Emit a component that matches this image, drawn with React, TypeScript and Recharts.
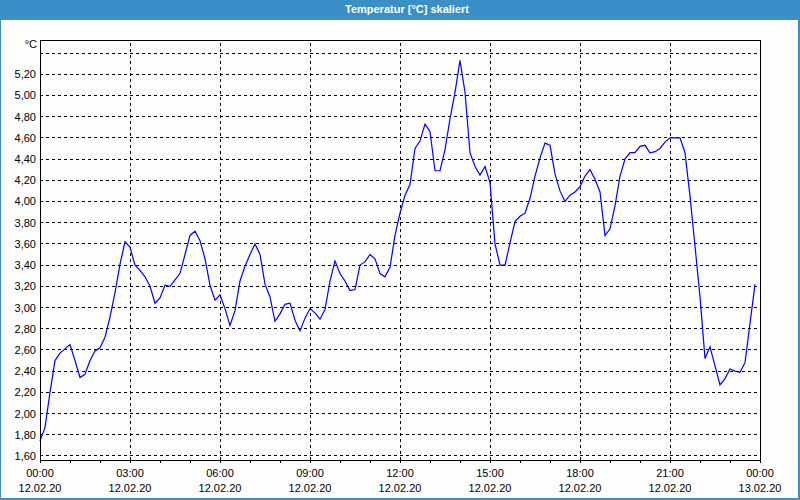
import { LineChart, Line, XAxis, YAxis, CartesianGrid, ReferenceLine, ReferenceArea } from "recharts";

// Messwerte alle 10 Minuten, 12.02.20 00:00 bis 23:50
const STEP_MIN = 10;
const temps = [
  1.74, 1.87, 2.2, 2.5, 2.57, 2.61, 2.65, 2.5, 2.34, 2.37, 2.5, 2.59,
  2.62, 2.72, 2.91, 3.14, 3.41, 3.62, 3.57, 3.4, 3.35, 3.29, 3.2, 3.04,
  3.09, 3.21, 3.2, 3.26, 3.32, 3.5, 3.68, 3.72, 3.63, 3.46, 3.21, 3.07,
  3.12, 2.99, 2.83, 2.97, 3.25, 3.39, 3.5, 3.6, 3.5, 3.22, 3.1, 2.87,
  2.94, 3.03, 3.04, 2.88, 2.78, 2.9, 2.99, 2.95, 2.89, 2.98, 3.25, 3.44,
  3.32, 3.25, 3.16, 3.17, 3.4, 3.43, 3.5, 3.46, 3.32, 3.29, 3.38, 3.68,
  3.89, 4.06, 4.16, 4.5, 4.57, 4.73, 4.66, 4.29, 4.29, 4.49, 4.78, 5.03,
  5.33, 5.03, 4.46, 4.33, 4.25, 4.33, 4.18, 3.6, 3.4, 3.4, 3.61, 3.81,
  3.86, 3.89, 4.03, 4.24, 4.41, 4.55, 4.53, 4.26, 4.1, 4.0, 4.06, 4.09,
  4.14, 4.24, 4.3, 4.21, 4.09, 3.68, 3.74, 3.96, 4.24, 4.4, 4.46, 4.46,
  4.52, 4.53, 4.46, 4.47, 4.5, 4.56, 4.6, 4.6, 4.6, 4.46, 4.05, 3.58,
  3.1, 2.52, 2.63, 2.45, 2.27, 2.33, 2.42, 2.4, 2.39, 2.48, 2.85, 3.22,
];

const yDomain = [1.562, 5.523];
const yTicks = [1.6, 1.8, 2.0, 2.2, 2.4, 2.6, 2.8, 3.0, 3.2, 3.4, 3.6, 3.8, 4.0, 4.2, 4.4, 4.6, 4.8, 5.0, 5.2, 5.4];
const hourTicks = [
  0, 60, 120, 180, 240, 300, 360, 420, 480, 540, 600, 660, 720,
  780, 840, 900, 960, 1020, 1080, 1140, 1200, 1260, 1320, 1380, 1440,
];
const majorTicks = [0, 180, 360, 540, 720, 900, 1080, 1260, 1440];
const timeLabels = ["00:00", "03:00", "06:00", "09:00", "12:00", "15:00", "18:00", "21:00", "00:00"];
const dateLabels = ["12.02.20", "12.02.20", "12.02.20", "12.02.20", "12.02.20", "12.02.20", "12.02.20", "12.02.20", "13.02.20"];

const data = temps.map((v, i) => ({ t: i * STEP_MIN, v }));

const FONT = '"Liberation Sans Narrow", "Liberation Sans", Arial, sans-serif';
const BLUE = "#3b8fc7";

function XTick({ x, y, payload }: any) {
  const i = majorTicks.indexOf(payload.value);
  if (i < 0) return <g />;
  return (
    <g fontFamily={FONT} fontSize={11} fill="#000">
      <text x={x} y={y + 12} textAnchor="middle">{timeLabels[i]}</text>
      <text x={x} y={y + 27} textAnchor="middle">{dateLabels[i]}</text>
    </g>
  );
}

function YTick({ x, y, payload }: any) {
  if (payload.value > 5.3) return <g />;
  return (
    <text x={x} y={y + 4} textAnchor="end" fontFamily={FONT} fontSize={11} fill="#000">
      {payload.value.toFixed(2).replace(".", ",")}
    </text>
  );
}

export default function App() {
  return (
    <div
      style={{
        position: "absolute",
        left: 0,
        top: 0,
        width: 800,
        height: 500,
        boxSizing: "border-box",
        background: "#fcfdfc",
        borderLeft: `1px solid ${BLUE}`,
        borderRight: `2px solid ${BLUE}`,
        borderBottom: `2px solid ${BLUE}`,
      }}
    >
      <div
        style={{
          position: "absolute",
          left: -1,
          top: 0,
          width: 800,
          height: 20,
          background: BLUE,
          color: "#fff",
          fontFamily: '"Liberation Sans", Arial, sans-serif',
          fontWeight: "bold",
          fontSize: 11,
          lineHeight: "18px",
          textAlign: "center",
          paddingLeft: 14,
          boxSizing: "border-box",
        }}
      >
        Temperatur [°C] skaliert
      </div>
      <div style={{ position: "absolute", left: -1, top: 0 }}>
        <LineChart width={800} height={500} data={data} margin={{ top: 40, right: 40, bottom: 0, left: 0 }}>
          <CartesianGrid vertical={false} stroke="#000" strokeDasharray="3 3" shapeRendering="crispEdges" />
          {majorTicks.slice(1, -1).map((t) => (
            <ReferenceLine key={t} x={t} stroke="#000" strokeDasharray="3 3" shapeRendering="crispEdges" />
          ))}
          <ReferenceArea
            x1={0}
            x2={1440}
            y1={yDomain[0]}
            y2={yDomain[1]}
            fill="none"
            stroke="#000"
            strokeOpacity={1}
            shapeRendering="crispEdges"
          />
          <XAxis
            dataKey="t"
            type="number"
            domain={[0, 1440]}
            ticks={hourTicks}
            interval={0}
            height={40}
            tickSize={3}
            tickMargin={2}
            stroke="#000"
            shapeRendering="crispEdges"
            tick={<XTick />}
          />
          <YAxis
            type="number"
            domain={yDomain}
            ticks={yTicks}
            interval={0}
            width={40}
            tickLine={false}
            tickSize={0}
            tickMargin={4}
            stroke="#000"
            shapeRendering="crispEdges"
            tick={<YTick />}
            label={{
              content: ({ viewBox }: any) => (
                <text
                  x={viewBox.x + viewBox.width - 3}
                  y={viewBox.y + 8}
                  textAnchor="end"
                  fontFamily={FONT}
                  fontSize={11}
                  fill="#000"
                >
                  °C
                </text>
              ),
            }}
          />
          <Line
            type="linear"
            dataKey="v"
            stroke="#0000ff"
            strokeWidth={1.2}
            dot={false}
            isAnimationActive={false}
          />
        </LineChart>
      </div>
    </div>
  );
}
